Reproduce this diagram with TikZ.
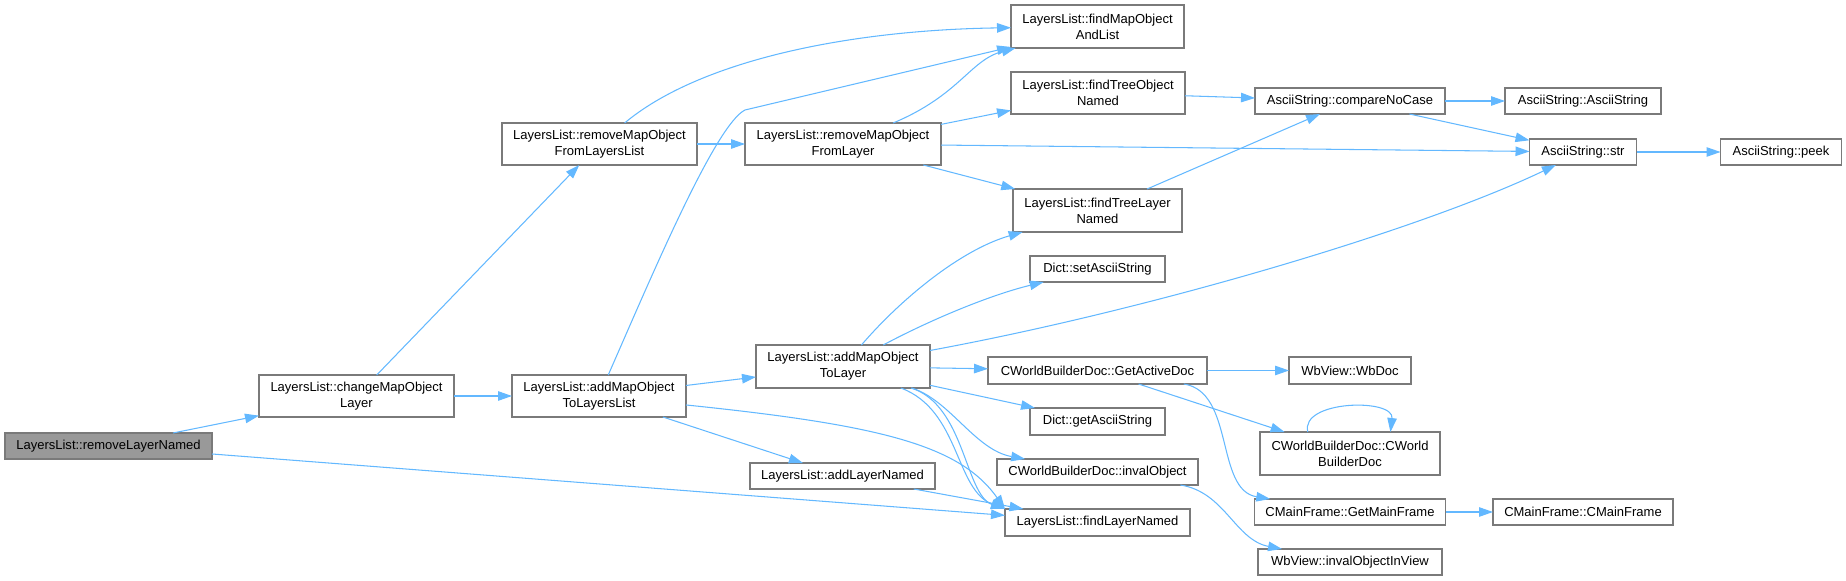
\documentclass[tikz,border=0pt]{standalone}
\usepackage{fontspec}
\setmainfont{Liberation Sans}
\usetikzlibrary{arrows.meta}
\definecolor{callblue}{HTML}{63B8FF}
\definecolor{boxgray}{HTML}{7A7A7A}
\definecolor{rootgray}{HTML}{999999}

\begin{document}
\begin{tikzpicture}[
		x=0.02cm, y=-0.02cm,
		>={Triangle[length=0.28cm,width=0.19cm]},
		fn/.style={draw=boxgray, line width=0.65pt, fill=white, inner sep=0pt, outer sep=0pt,
			align=center, font=\fontsize{7.4}{9.1}\selectfont},
		root/.style={fn, fill=rootgray},
		bw/.style={minimum width=#1*0.02cm},
		bh/.style={minimum height=#1*0.02cm},
		call/.style={->, draw=callblue, line width=0.6pt}
		]
		
		\useasboundingbox (0,0) rectangle (1846,581);
		
		% --------------------------------------------------
		% Callers (left part)
		% --------------------------------------------------
		\node[root, bw=207, bh=26] (rln) at (108.5,446) {LayersList::removeLayerNamed};
		\node[fn, bw=195, bh=42] (cmol) at (356.5,396) {LayersList::changeMapObject\\Layer};
		\node[fn, bw=195, bh=42] (rmfll) at (599.5,144) {LayersList::removeMapObject\\FromLayersList};
		\node[fn, bw=174, bh=42] (amtll) at (599,396) {LayersList::addMapObject\\ToLayersList};
		\node[fn, bw=196, bh=42] (rmfl) at (843,144) {LayersList::removeMapObject\\FromLayer};
		\node[fn, bw=174, bh=43] (amtl) at (843,366.5) {LayersList::addMapObject\\ToLayer};
		\node[fn, bw=185, bh=26] (aln) at (842.5,476) {LayersList::addLayerNamed};
		
		% --------------------------------------------------
		% Middle column
		% --------------------------------------------------
		\node[fn, bw=173, bh=43] (fmoal) at (1097.5,26.5) {LayersList::findMapObject\\AndList};
		\node[fn, bw=174, bh=42] (fton) at (1098,93) {LayersList::findTreeObject\\Named};
		\node[fn, bw=169, bh=43] (ftln) at (1097.5,210.5) {LayersList::findTreeLayer\\Named};
		\node[fn, bw=135, bh=26] (dset) at (1097.5,269) {Dict::setAsciiString};
		\node[fn, bw=219, bh=27] (gad) at (1097.5,370.5) {CWorldBuilderDoc::GetActiveDoc};
		\node[fn, bw=135, bh=27] (dget) at (1097.5,421.5) {Dict::getAsciiString};
		\node[fn, bw=201, bh=26] (inv) at (1097.5,472) {CWorldBuilderDoc::invalObject};
		\node[fn, bw=185, bh=27] (fln) at (1097.5,522.5) {LayersList::findLayerNamed};
		
		% --------------------------------------------------
		% Right columns
		% --------------------------------------------------
		\node[fn, bw=190, bh=26] (cnc) at (1350,101) {AsciiString::compareNoCase};
		\node[fn, bw=156, bh=26] (ascii) at (1583,101) {AsciiString::AsciiString};
		\node[fn, bw=107, bh=26] (str) at (1583,152) {AsciiString::str};
		\node[fn, bw=121, bh=26] (peek) at (1781,152) {AsciiString::peek};
		\node[fn, bw=122, bh=27] (wbdoc) at (1350,370.5) {WbView::WbDoc};
		\node[fn, bw=180, bh=43] (cwbd) at (1350,453.5) {CWorldBuilderDoc::CWorld\\BuilderDoc};
		\node[fn, bw=191, bh=26] (gmf) at (1350,512) {CMainFrame::GetMainFrame};
		\node[fn, bw=180, bh=26] (cmf) at (1583,512) {CMainFrame::CMainFrame};
		\node[fn, bw=184, bh=26] (invv) at (1350,562) {WbView::invalObjectInView};
		
		% --------------------------------------------------
		% Calls
		% --------------------------------------------------
		\draw[call] (rln) -- (cmol);
		\draw[call] (rln) -- (fln);
		
		\draw[call] (cmol) -- (rmfll);
		\draw[call] (cmol) -- (amtll);
		
		\draw[call] (rmfll) -- (rmfl);
		\draw[call] (rmfll) .. controls (700,60) and (850,30) .. (fmoal);
		
		\draw[call] (amtll) .. controls (650,280) and (715,125) .. (745,110) -- (fmoal);
		\draw[call] (amtll) -- (amtl);
		\draw[call] (amtll) -- (aln);
		\draw[call] (amtll) .. controls (880,425) and (960,445) .. (fln.north west);
		
		\draw[call] (rmfl) .. controls (960,95) and (970,60) .. (fmoal);
		\draw[call] (rmfl) -- (fton);
		\draw[call] (rmfl) -- (str);
		\draw[call] (rmfl) -- (ftln);
		
		\draw[call] (aln) -- (fln);
		
		\draw[call] (amtl) .. controls (900,300) and (960,250) .. (ftln);
		\draw[call] (amtl) .. controls (930,320) and (990,295) .. (dset);
		\draw[call] (amtl) .. controls (1150,310) and (1420,230) .. (str);
		\draw[call] (amtl) -- (gad);
		\draw[call] (amtl) -- (dget);
		\draw[call] (amtl) .. controls (950,400) and (975,450) .. (inv);
		\draw[call] (amtl) .. controls (960,410) and (955,490) .. (fln.north west);
		\draw[call] (amtl) .. controls (965,405) and (965,495) .. (fln.north west);
		
		\draw[call] (fton) -- (cnc);
		\draw[call] (ftln) -- (cnc);
		
		\draw[call] (cnc) -- (ascii);
		\draw[call] (cnc) -- (str);
		\draw[call] (str) -- (peek);
		
		\draw[call] (gad) -- (wbdoc);
		\draw[call] (gad) -- (cwbd);
		\draw[call] (gad) .. controls (1235,392) and (1215,490) .. (gmf);
		\draw[call] (cwbd.153) .. controls +(-8,-32) and +(4,-34) .. (cwbd.28);
		\draw[call] (gmf) -- (cmf);
		\draw[call] (inv) .. controls (1225,492) and (1235,540) .. (invv);
		
	\end{tikzpicture}
\end{document}
